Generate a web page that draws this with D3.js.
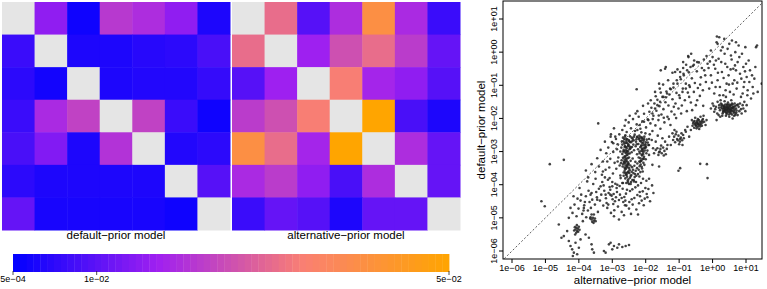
<!DOCTYPE html>
<html>
<head>
<meta charset="utf-8">
<script src="https://cdn.jsdelivr.net/npm/d3@7"></script>
<style>
  body { margin: 0; background: #fff; }
  svg { display: block; font-family: "Liberation Sans", Arial, sans-serif; }
</style>
</head>
<body>
<div id="chart"></div>
<script>
// matrix cells (null = diagonal, drawn grey)
const defaultPrior = [
  [null, 0.0154, 0.0020, 0.0213, 0.0193, 0.0154, 0.0035],
  [0.0065, null, 0.0035, 0.0035, 0.0045, 0.0050, 0.0080],
  [0.0050, 0.0025, null, 0.0035, 0.0040, 0.0040, 0.0060],
  [0.0065, 0.0188, 0.0228, null, 0.0228, 0.0065, 0.0020],
  [0.0080, 0.0139, 0.0035, 0.0203, null, 0.0040, 0.0050],
  [0.0050, 0.0035, 0.0035, 0.0035, 0.0035, null, 0.0094],
  [0.0109, 0.0030, 0.0030, 0.0030, 0.0030, 0.0020, null]
];
const alternativePrior = [
  [null, 0.0302, 0.0094, 0.0193, 0.0401, 0.0188, 0.0065],
  [0.0302, null, 0.0168, 0.0253, 0.0302, 0.0218, 0.0109],
  [0.0094, 0.0168, null, 0.0332, 0.0178, 0.0154, 0.0094],
  [0.0218, 0.0253, 0.0332, null, 0.0500, 0.0080, 0.0035],
  [0.0401, 0.0302, 0.0178, 0.0500, null, 0.0193, 0.0109],
  [0.0188, 0.0218, 0.0154, 0.0080, 0.0193, null, 0.0109],
  [0.0065, 0.0109, 0.0094, 0.0035, 0.0109, 0.0109, null]
];
const colorTicks = [0.0005, 0.01, 0.05];
const colorTickLabels = ["5e\u221204", "1e\u221202", "5e\u221202"];

// scatter, log10 values [alternative, default]
const blob = [
  [-2.68,-2.58],[-2.61,-2.51],[-2.55,-2.63],[-2.47,-2.54],[-2.39,-2.61],[-2.33,-2.49],[-2.26,-2.57],[-2.19,-2.52],[-2.12,-2.60],[-2.04,-2.55],
  [-1.97,-2.64],[-2.71,-2.69],[-2.64,-2.76],[-2.58,-2.68],[-2.52,-2.81],[-2.44,-2.72],[-2.37,-2.79],[-2.29,-2.70],[-2.22,-2.77],[-2.15,-2.68],
  [-2.08,-2.74],[-2.01,-2.82],[-1.94,-2.73],[-2.73,-2.88],[-2.66,-2.95],[-2.59,-2.86],[-2.53,-2.99],[-2.46,-2.91],[-2.23,-2.93],[-2.16,-2.87],
  [-2.09,-2.98],[-2.02,-2.90],[-1.95,-2.97],[-2.70,-3.07],[-2.63,-3.14],[-2.57,-3.03],[-2.50,-3.18],[-2.12,-3.09],[-2.05,-3.16],[-1.98,-3.05],
  [-2.72,-3.26],[-2.65,-3.33],[-2.58,-3.22],[-2.51,-3.37],[-2.14,-3.27],[-2.07,-3.34],[-2.00,-3.23],[-2.69,-3.45],[-2.62,-3.52],[-2.55,-3.41],
  [-2.48,-3.56],[-2.41,-3.47],[-2.18,-3.44],[-2.11,-3.51],[-2.04,-3.40],[-2.66,-3.63],[-2.59,-3.70],[-2.52,-3.60],[-2.45,-3.74],[-2.37,-3.65],
  [-2.30,-3.58],[-2.23,-3.68],[-2.16,-3.62],[-2.61,-3.81],[-2.54,-3.88],[-2.47,-3.79],[-2.40,-3.86],[-2.33,-3.77],[-2.58,-3.95],[-2.50,-3.98],
  [-2.64,-2.62],[-2.50,-2.69],[-2.36,-2.66],[-2.20,-2.63],[-2.06,-2.67],[-2.62,-2.83],[-2.48,-2.85],[-2.30,-2.84],[-2.13,-2.81],[-1.99,-2.86],
  [-2.67,-3.00],[-2.55,-3.10],[-2.42,-3.02],[-2.19,-3.00],[-2.07,-3.03],[-2.68,-3.19],[-2.60,-3.29],[-2.45,-3.28],[-2.21,-3.18],[-2.09,-3.22],
  [-2.67,-3.38],[-2.57,-3.47],[-2.46,-3.42],[-2.25,-3.36],[-2.15,-3.39],[-2.63,-3.58],[-2.49,-3.65],[-2.38,-3.55],[-2.26,-3.50],[-2.09,-3.60],
  [-2.56,-3.76],[-2.43,-3.71],[-2.28,-3.73],[-2.66,-3.73],[-2.52,-3.84],[-2.70,-2.79],[-2.56,-2.74],[-2.41,-2.86],[-2.27,-2.78],[-2.11,-2.92],
  [-2.60,-2.96],[-2.48,-3.06],[-2.35,-2.96],[-2.26,-3.08],[-2.03,-2.97],[-2.63,-3.24],[-2.53,-3.32],[-2.39,-3.21],[-2.31,-3.31],[-2.17,-3.31],
  [-2.60,-3.42],[-2.50,-3.50],[-2.34,-3.43],[-2.21,-3.55],[-2.12,-3.46],[-2.57,-3.64],[-2.42,-3.61],[-2.32,-3.68],[-2.19,-3.75],[-2.44,-3.92],
  [-2.35,-2.55],[-2.28,-2.63],[-2.42,-2.58],[-2.15,-2.56],[-2.00,-2.72],[-1.92,-2.80],[-1.90,-2.62],[-2.74,-3.35],[-2.76,-3.00],[-2.35,-3.90],
  [-2.62,-2.55],[-2.58,-2.62],[-2.50,-2.66],[-2.66,-2.70],[-2.60,-2.74],[-2.52,-2.78],[-2.47,-2.71],[-2.40,-2.68],[-2.63,-2.86],[-2.57,-2.90],
  [-2.53,-2.84],[-2.49,-2.93],[-2.45,-2.88],[-2.64,-3.00],[-2.60,-3.04],[-2.56,-2.98],[-2.52,-3.06],[-2.62,-3.17],[-2.58,-3.12],[-2.54,-3.20],
  [-2.65,-3.30],[-2.61,-3.35],[-2.57,-3.28],[-2.53,-3.38],[-2.63,-3.48],[-2.59,-3.52],[-2.55,-3.45],[-2.61,-3.65],[-2.57,-3.70],[-2.53,-3.63],
  [-2.25,-2.55],[-2.20,-2.60],[-2.10,-2.58],[-2.05,-2.62],[-2.17,-2.68],[-2.12,-2.73],[-2.07,-2.80],[-2.14,-2.84],[-2.09,-2.92],[-2.04,-2.88],
  [-2.18,-3.05],[-2.13,-2.98],[-2.08,-3.08],[-2.16,-3.20],[-2.11,-3.12],[-2.06,-3.22],[-2.19,-3.30],[-2.13,-3.28],[-2.10,-2.65],[-2.01,-2.78]
];
const upperBand = [
  [-3.18,-3.05],[-3.12,-2.88],[-3.06,-3.22],[-3.01,-2.71],[-2.97,-3.01],[-2.93,-3.34],[-2.89,-2.62],[-2.86,-2.93],[-2.82,-3.18],[-2.79,-2.48],
  [-2.84,-2.78],[-2.91,-2.55],[-3.04,-2.48],[-3.22,-2.70],[-3.28,-3.30],[-3.35,-2.95],[-2.78,-3.42],[-2.95,-2.30],
  [-2.70,-2.35],[-2.63,-2.22],[-2.57,-2.41],[-2.51,-2.12],[-2.44,-2.30],[-2.38,-2.02],[-2.32,-2.38],[-2.27,-2.18],[-2.21,-1.95],[-2.16,-2.31],
  [-2.10,-2.09],[-2.05,-1.86],[-1.99,-2.27],[-1.94,-2.03],[-1.89,-1.80],[-2.48,-1.92],[-2.25,-1.78],[-2.60,-2.05],[-2.01,-2.45],[-2.13,-2.42],
  [-1.86,-2.15],[-1.83,-1.68],[-1.80,-2.38],[-1.77,-1.92],[-1.74,-1.55],[-1.71,-2.21],[-1.68,-1.77],[-1.65,-1.44],[-1.62,-2.05],[-1.59,-1.63],
  [-1.56,-2.31],[-1.53,-1.88],[-1.50,-1.35],[-1.47,-1.72],[-1.44,-2.12],[-1.41,-1.51],[-1.38,-1.19],[-1.35,-1.95],[-1.32,-1.61],[-1.29,-1.28],
  [-1.26,-2.20],[-1.23,-1.79],[-1.20,-1.42],[-1.17,-1.07],[-1.14,-1.88],[-1.11,-1.55],[-1.08,-1.23],[-1.05,-0.95],[-1.02,-1.70],[-1.85,-1.45],
  [-1.79,-2.02],[-1.70,-1.33],[-1.61,-1.91],[-1.55,-1.22],[-1.46,-1.98],[-1.40,-1.36],[-1.31,-2.02],[-1.25,-1.12],[-1.16,-1.65],[-1.09,-1.99],
  [-1.88,-2.48],[-1.64,-2.52],[-1.48,-0.98],[-1.33,-0.85],[-1.58,-1.10],[-1.72,-1.20],[-1.93,-1.55],[-2.08,-1.62],
  [-0.98,-1.38],[-0.95,-0.82],[-0.92,-1.61],[-0.89,-1.10],[-0.86,-0.70],[-0.83,-1.45],[-0.80,-0.95],[-0.77,-1.78],[-0.74,-1.22],[-0.71,-0.61],
  [-0.68,-1.05],[-0.65,-1.52],[-0.62,-0.79],[-0.59,-0.42],[-0.56,-1.20],[-0.53,-0.93],[-0.50,-1.60],[-0.47,-0.58],[-0.44,-1.08],[-0.41,-0.31],
  [-0.38,-1.32],[-0.35,-0.76],[-0.32,-0.48],[-0.29,-1.15],[-0.26,-0.22],[-0.94,-1.85],[-0.88,-0.48],[-0.79,-0.38],[-0.70,-1.35],[-0.61,-1.75],
  [-0.55,-0.25],[-0.46,-1.45],[-0.37,-0.98],[-0.28,-1.62],[-0.22,-0.70],[-0.97,-0.60],[-0.73,-0.12],[-0.64,-0.05],[-1.05,-0.52],[-1.20,-0.62],
  [-2.25,-2.35],[-2.18,-2.20],[-2.05,-2.10],[-1.92,-2.05],[-1.80,-1.85],[-1.72,-1.70],[-1.65,-1.60],[-1.57,-1.50],[-1.47,-1.35],[-1.36,-1.25],
  [-1.27,-1.10],[-1.17,-0.95],[-1.07,-0.85],[-0.97,-0.75],[-0.87,-0.65],[-0.76,-0.55],[-0.66,-0.45],[-0.56,-0.38],[-0.46,-0.30],[-1.40,-0.45],
  [-1.55,-0.55],[-0.88,-0.30],[-0.72,-0.15],[-2.30,-1.85],[-1.60,-0.95],[-1.12,-0.60],[-1.00,-1.30],[-0.90,-1.20],[-0.80,-1.10],[-0.70,-1.00]
];
const lowerBand = [
  [-3.30,-3.92],[-3.24,-4.18],[-3.19,-4.41],[-3.13,-3.85],[-3.08,-4.07],[-3.02,-4.33],[-2.97,-4.58],[-2.91,-3.97],[-2.86,-4.22],[-2.80,-4.46],
  [-2.75,-3.80],[-2.69,-4.12],[-2.64,-4.37],[-2.58,-4.63],[-2.53,-3.93],[-2.47,-4.19],[-2.42,-4.44],[-2.36,-3.86],[-2.31,-4.08],[-2.25,-4.31],
  [-2.20,-4.56],[-2.14,-3.95],[-2.09,-4.20],[-2.03,-4.42],[-1.98,-3.88],[-1.92,-4.13],[-1.87,-4.50],[-1.81,-4.02],[-1.77,-4.25],[-3.27,-4.63],
  [-3.15,-4.70],[-3.04,-4.85],[-2.94,-4.77],[-2.83,-4.66],[-2.72,-4.82],[-2.61,-4.48],[-2.50,-4.72],[-2.39,-4.60],[-2.28,-4.75],[-2.17,-4.35],
  [-2.06,-4.62],[-1.95,-4.38],[-3.22,-3.78],[-3.11,-4.25],[-3.00,-3.92],[-2.89,-4.38],[-2.78,-4.04],[-2.67,-4.52],[-2.56,-4.15],[-2.45,-3.98],
  [-2.34,-4.40],[-2.23,-4.02],[-2.12,-4.48],[-2.01,-4.10],[-1.90,-3.82],[-3.33,-4.30],[-3.26,-4.02],[-3.17,-4.55],[-3.06,-4.15],[-2.99,-4.44],
  [-2.87,-4.10],[-2.77,-4.30],[-2.68,-3.95],[-2.59,-4.27],[-2.49,-4.52],[-2.40,-4.14],[-2.29,-3.92],[-2.18,-4.22],[-2.08,-3.82],[-1.97,-4.28],
  [-3.40,-4.12],[-3.46,-4.38],[-3.52,-4.60],[-3.57,-3.98],[-3.62,-4.25],[-3.68,-4.52],[-3.73,-4.78],[-3.79,-4.35],[-3.84,-4.62],[-3.90,-4.88],
  [-3.95,-4.48],[-4.01,-4.72],[-4.07,-4.95],[-4.13,-4.60],[-4.19,-4.85],[-3.43,-4.82],[-3.55,-4.90],[-3.66,-5.02],[-3.78,-4.98],[-3.88,-5.10],
  [-3.48,-4.22],[-3.60,-4.45],[-3.71,-4.18],[-3.82,-4.52],[-3.93,-4.30],[-4.04,-4.42],[-4.16,-4.35],[-3.37,-4.48],[-3.64,-4.70],[-3.86,-4.78],
  [-2.95,-4.95],[-2.80,-5.05],[-2.65,-4.92],[-2.44,-4.88],[-3.50,-3.82],[-3.75,-3.90],[-3.98,-4.10],[-4.25,-4.70],[-4.30,-5.00],[-2.23,-4.90],
  [-3.62,-3.38],[-3.51,-3.62],[-3.40,-3.45],[-3.31,-3.70],[-3.20,-3.55],[-3.09,-3.48],[-2.98,-3.66],[-2.88,-3.52],[-2.84,-3.30],[-3.72,-3.78],
  [-3.45,-3.20],[-3.15,-3.30],[-2.70,-3.95],[-2.85,-4.00],[-3.00,-4.05],[-3.20,-4.30],[-3.35,-4.05],[-3.45,-4.45],[-3.65,-4.30],[-3.85,-4.70],
  [-2.72,-4.40],[-2.92,-4.50],[-3.12,-4.60],[-2.62,-4.62],[-3.62,-4.90],[-3.08,-3.80],[-3.28,-3.60],[-2.76,-3.72],[-3.06,-4.30],[-2.96,-4.28]
];
const rightCluster = [
  [0.15,-1.50],[0.20,-1.60],[0.25,-1.55],[0.28,-1.70],[0.32,-1.62],[0.35,-1.78],[0.38,-1.58],[0.42,-1.68],[0.45,-1.82],[0.48,-1.64],
  [0.52,-1.74],[0.55,-1.60],[0.58,-1.88],[0.62,-1.70],[0.65,-1.80],[0.68,-1.62],[0.72,-1.76],[0.75,-1.90],[0.22,-1.75],[0.30,-1.85],
  [0.40,-1.92],[0.50,-1.95],[0.60,-2.00],[0.36,-1.48],[0.46,-1.52],[0.56,-1.45],[0.66,-1.55],[0.27,-1.62],[0.33,-1.72],[0.43,-1.75],
  [0.53,-1.67],[0.63,-1.83],[0.70,-1.70],[0.40,-1.65],[0.47,-1.72],[0.57,-1.78],[0.60,-1.58],[0.34,-1.66],[0.44,-1.60],[0.54,-1.85],
  [0.78,-1.65],[0.82,-1.55],[0.85,-1.72],[0.90,-1.60],[0.10,-1.65],[0.05,-1.80],[0.18,-1.90],[0.24,-1.45],[0.64,-1.92],[0.50,-1.58],
  [0.39,-1.80],[0.49,-1.88],[0.59,-1.68],[0.69,-1.85],[0.29,-1.92],[0.95,-1.50],[1.02,-1.60],[0.00,-1.55],[-0.05,-1.70],[0.12,-2.05],
  [0.26,-1.67],[0.31,-1.77],[0.37,-1.71],[0.41,-1.83],[0.46,-1.69],[0.51,-1.79],[0.56,-1.73],[0.61,-1.65],[0.66,-1.74],[0.71,-1.82],
  [0.28,-1.58],[0.35,-1.63],[0.44,-1.57],[0.52,-1.62],[0.58,-1.55],[0.64,-1.66],[0.73,-1.60],[0.32,-1.81],[0.42,-1.87],[0.53,-1.82],
  [0.62,-1.77],[0.68,-1.90],[0.47,-1.78],[0.38,-1.75],[0.57,-1.69],[0.50,-1.71],[0.45,-1.66],[0.40,-1.73],[0.55,-1.76],[0.35,-1.69],
  [0.80,-1.78],[0.76,-1.58],[0.87,-1.85],[0.92,-1.70],[0.08,-1.72],[0.14,-1.85],[0.19,-1.68],[0.23,-1.95],[0.03,-1.62],[0.98,-1.78]
];
const upperRight = [
  [-0.25,-0.55],[-0.20,-0.90],[-0.15,-0.35],[-0.10,-1.10],[-0.05,-0.70],[0.00,-0.15],[0.05,-1.25],[0.08,-0.50],[0.12,0.30],[0.15,-0.85],
  [0.18,-0.20],[0.22,-1.05],[0.25,0.05],[0.28,-0.60],[0.32,-1.30],[0.35,0.40],[0.38,-0.35],[0.42,-0.95],[0.45,0.10],[0.48,-0.70],
  [0.52,-1.20],[0.55,-0.10],[0.58,0.35],[0.62,-0.50],[0.65,-0.85],[0.68,0.00],[0.72,-1.10],[0.75,-0.30],[0.78,0.20],[0.82,-0.65],
  [0.85,-1.35],[0.88,-0.05],[0.92,-0.45],[0.95,-0.90],[0.98,0.15],[1.02,-0.75],[1.05,-1.15],[1.08,-0.25],[1.12,-0.55],[1.15,-1.40],
  [1.20,-1.05],[1.25,-0.80],[1.30,0.15],[1.35,-1.20],[1.47,-0.95],[-0.05,0.05],[0.30,0.15],[0.10,-0.25],[0.60,-0.95],[0.40,-1.35],
  [0.70,-0.55],[0.90,-1.25],[1.00,-0.35],[0.50,0.25],[0.20,0.45],
  [-0.18,-0.12],[-0.12,-0.48],[-0.02,-0.92],[0.04,-0.38],[0.09,-1.05],[0.16,-0.62],[0.21,-1.30],[0.26,-0.30],[0.33,-0.78],[0.39,-1.15],
  [0.44,-0.45],[0.49,-0.98],[0.57,-0.22],[0.63,-1.28],[0.67,-0.40],[0.74,-0.92],[0.80,-0.15],[0.86,-0.80],[0.93,-1.05],[0.97,-0.58],
  [1.04,-1.30],[1.10,-0.90],[1.18,-0.70],[1.22,-1.25],[1.28,-0.45],[0.36,-0.05],[0.15,0.25],[-0.08,-0.28],[0.70,0.30],[0.54,-0.52]
];
const midClusters = [
  [-0.58,-2.15],[-0.54,-2.08],[-0.50,-2.20],[-0.47,-2.12],[-0.44,-2.25],[-0.41,-2.05],[-0.38,-2.18],[-0.35,-2.10],[-0.32,-2.22],[-0.29,-2.02],
  [-0.48,-2.30],[-0.40,-2.32],[-0.52,-1.98],[-0.36,-1.95],[-0.45,-2.15],[-0.42,-2.20],[-0.55,-2.28],[-0.30,-2.12],[-0.27,-1.92],[-0.62,-2.05],
  [-0.57,-2.10],[-0.51,-2.14],[-0.46,-2.07],[-0.43,-2.17],[-0.39,-2.11],[-0.34,-2.16],[-0.31,-2.06],[-0.49,-2.23],[-0.37,-2.24],[-0.53,-2.18],
  [-0.25,-2.10],[-0.21,-2.20],[-0.18,-2.05],[-0.60,-2.22],[-0.44,-2.02],
  [-1.15,-2.55],[-1.10,-2.48],[-1.06,-2.62],[-1.02,-2.52],[-0.98,-2.70],[-0.95,-2.58],[-0.91,-2.66],[-0.88,-2.50],[-1.12,-2.72],[-1.00,-2.78],
  [-0.93,-2.45],[-1.08,-2.40],[-1.04,-2.66],[-0.97,-2.62],[-0.86,-2.60],[-1.18,-2.65],[-1.20,-2.45],[-0.82,-2.35],[-0.90,-2.80],[-1.14,-2.35],
  [-1.70,-2.95],[-1.65,-2.90],[-1.60,-3.02],[-1.56,-2.92],[-1.52,-3.05],[-1.48,-2.88],[-1.44,-2.98],[-1.40,-3.08],[-1.37,-2.92],[-1.62,-3.10],
  [-1.54,-2.82],[-1.46,-3.12],[-1.75,-3.05],[-1.35,-2.80],[-1.58,-3.00],
  [-1.90,-2.80],[-1.82,-2.65],[-1.78,-2.90],[-1.70,-2.70],[-1.50,-2.60],[-1.42,-2.70],[-1.30,-2.55],[-1.25,-2.80],[-0.80,-2.40],[-0.70,-2.55],
  [-0.75,-2.25],[-0.65,-2.35]
];
const bottomPoints = [
  [-4.12,-5.28],[-4.10,-5.35],[-4.07,-5.30],[-4.05,-5.40],[-4.03,-5.33],[-4.00,-5.27],[-4.08,-5.45],[-4.02,-5.42],[-4.14,-5.38],[-3.98,-5.36],
  [-4.06,-5.22],[-4.11,-5.50],
  [-3.62,-5.05],[-3.58,-5.00],[-3.55,-5.08],[-3.52,-5.02],[-3.60,-5.12],[-3.50,-5.10],[-3.65,-4.98],[-3.56,-5.15],
  [-4.30,-5.70],[-4.25,-5.85],[-4.20,-5.95],[-4.15,-6.05],[-4.10,-5.75],[-4.05,-6.10],[-4.00,-5.90],[-3.95,-5.65],[-4.18,-6.15],[-3.60,-5.95],
  [-3.55,-6.05],[-3.62,-5.80],[-3.25,-6.00],[-3.20,-6.05],[-3.05,-5.75],[-2.95,-5.85],[-2.85,-5.90],[-2.80,-5.80],[-2.70,-5.88],[-2.60,-5.85],
  [-2.50,-5.82],[-3.10,-5.80],[-3.00,-5.95],[-4.45,-5.55],[-4.35,-5.40],[-3.80,-5.50],[-3.70,-5.60]
];
const outliers = [
  [-4.87,-3.38],[-4.45,-3.25],[-3.79,-3.57],[-5.12,-4.50],[-5.02,-4.65],[-3.42,-2.15],[-0.37,-3.37],[-0.17,-3.38],[-0.15,-3.80],[-0.97,-3.50],
  [-1.02,-3.58],[-2.27,-1.12],[-1.42,-0.50],[0.13,0.47],[1.33,0.20],[-4.52,-5.60],[-4.60,-5.20],[-2.97,-2.75],[-3.05,-2.55],[-1.80,-3.40],
  [-1.60,-3.45],[-1.90,-3.10]
];
const axisTicks = [-6, -5, -4, -3, -2, -1, 0, 1];
const axisTickLabels = ["1e\u221206", "1e\u221205", "1e\u221204", "1e\u221203", "1e\u221202", "1e\u221201", "1e+00", "1e+01"];

const points = [].concat(blob, upperBand, lowerBand, rightCluster, upperRight,
  midClusters, bottomPoints, outliers);

const svg = d3.select("#chart").append("svg")
  .attr("width", 767).attr("height", 289);

const color = d3.scaleLinear()
  .domain([0.0005, 0.0005 + 0.0495 / 3, 0.0005 + 0.0495 * 2 / 3, 0.05])
  .range(["#0000ff", "#a020f0", "#fa8072", "#ffa500"])
  .clamp(true);

function drawMatrix(data, x0, label) {
  const g = svg.append("g");
  const band = d3.scaleBand().domain(d3.range(7)).range([0, 228]);
  data.forEach((row, i) => {
    g.selectAll(null).data(row).enter().append("rect")
      .attr("x", (d, j) => x0 + band(j))
      .attr("y", 2 + band(i))
      .attr("width", band.bandwidth() + 0.5)
      .attr("height", band.bandwidth() + 0.5)
      .attr("fill", d => d == null ? "#e5e5e5" : color(d));
  });
  g.append("text")
    .attr("x", x0 + 114).attr("y", 239)
    .attr("text-anchor", "middle")
    .attr("font-size", 11.5)
    .text(label);
}
drawMatrix(defaultPrior, 2, "default\u2212prior model");
drawMatrix(alternativePrior, 232, "alternative\u2212prior model");

// colour bar
const cb = d3.scaleLinear().domain([0.0005, 0.05]).range([13, 449]);
const steps = 64;
const stepW = (cb.range()[1] - cb.range()[0]) / steps;
svg.append("g").selectAll("rect").data(d3.range(steps)).enter().append("rect")
  .attr("x", i => cb.range()[0] + i * stepW)
  .attr("y", 254)
  .attr("width", stepW + 0.4)
  .attr("height", 18)
  .attr("fill", i => color(cb.invert(cb.range()[0] + (i + 0.5) * stepW)));
const cbAxis = svg.append("g");
colorTicks.forEach((t, i) => {
  cbAxis.append("line")
    .attr("x1", cb(t)).attr("x2", cb(t))
    .attr("y1", 271).attr("y2", 275)
    .attr("stroke", "#222").attr("stroke-width", 0.8);
  cbAxis.append("text")
    .attr("x", cb(t)).attr("y", 282)
    .attr("text-anchor", "middle")
    .attr("font-size", 9)
    .text(colorTickLabels[i]);
});

// scatter
const frame = {left: 503, right: 762, top: 1, bottom: 259};
const x = d3.scaleLog().domain([1e-6, 1e1]).range([512, 746]);
const y = d3.scaleLog().domain([1e-6, 1e1]).range([251, 19]);

svg.append("clipPath").attr("id", "frameClip")
  .append("rect").attr("x", frame.left).attr("y", frame.top)
  .attr("width", frame.right - frame.left).attr("height", frame.bottom - frame.top);

const plot = svg.append("g").attr("clip-path", "url(#frameClip)");
plot.append("line")
  .attr("x1", x(Math.pow(10, -6.4))).attr("y1", y(Math.pow(10, -6.4)))
  .attr("x2", x(Math.pow(10, 1.6))).attr("y2", y(Math.pow(10, 1.6)))
  .attr("stroke", "#333").attr("stroke-width", 0.8)
  .attr("stroke-dasharray", "2,2");

plot.selectAll("circle").data(points).enter().append("circle")
  .attr("cx", d => x(Math.pow(10, d[0])))
  .attr("cy", d => y(Math.pow(10, d[1])))
  .attr("r", 1.3)
  .attr("fill", "#222")
  .attr("fill-opacity", 0.85);

svg.append("rect")
  .attr("x", frame.left).attr("y", frame.top)
  .attr("width", frame.right - frame.left).attr("height", frame.bottom - frame.top)
  .attr("fill", "none").attr("stroke", "#000").attr("stroke-width", 1);

const xAxis = svg.append("g");
axisTicks.forEach((t, i) => {
  const px = x(Math.pow(10, t));
  xAxis.append("line").attr("x1", px).attr("x2", px)
    .attr("y1", frame.bottom).attr("y2", frame.bottom + 4)
    .attr("stroke", "#000");
  xAxis.append("text").attr("x", px).attr("y", 271)
    .attr("text-anchor", "middle").attr("font-size", 9)
    .text(axisTickLabels[i]);
});
const yAxis = svg.append("g");
axisTicks.forEach((t, i) => {
  const py = y(Math.pow(10, t));
  yAxis.append("line").attr("x1", frame.left - 4).attr("x2", frame.left)
    .attr("y1", py).attr("y2", py)
    .attr("stroke", "#000");
  yAxis.append("text")
    .attr("transform", `translate(497,${py}) rotate(-90)`)
    .attr("text-anchor", "middle").attr("font-size", 9)
    .text(axisTickLabels[i]);
});

svg.append("text")
  .attr("x", (frame.left + frame.right) / 2).attr("y", 284)
  .attr("text-anchor", "middle").attr("font-size", 11.5)
  .text("alternative\u2212prior model");
svg.append("text")
  .attr("transform", `translate(485,${(frame.top + frame.bottom) / 2}) rotate(-90)`)
  .attr("text-anchor", "middle").attr("font-size", 11.5)
  .text("default\u2212prior model");
</script>
</body>
</html>
